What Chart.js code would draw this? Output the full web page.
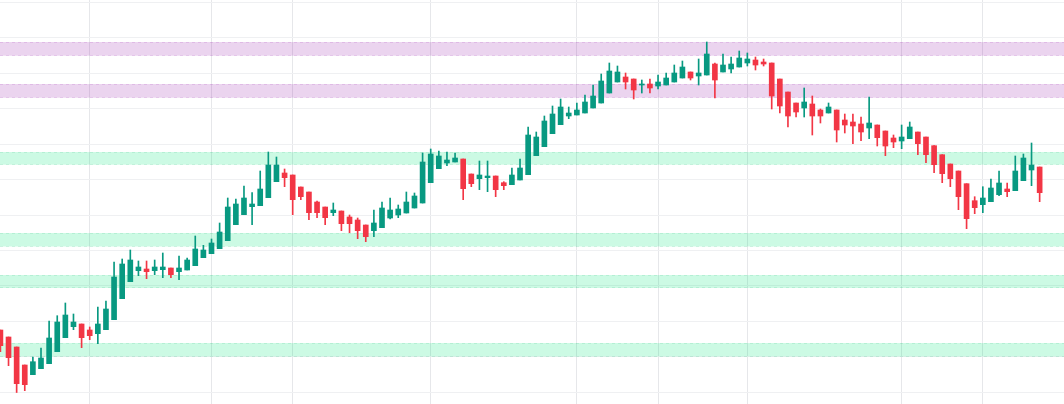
<!DOCTYPE html>
<html>
<head>
    <title>Candles with zones</title>
    <script src="https://cdn.jsdelivr.net/npm/chart.js@4"></script>
    <style>
        body { margin: 0; background: #fff; }
        #wrap { width: 1064px; height: 404px; position: relative; }
    </style>
</head>
<body>
    <div id="wrap"><canvas id="candleChart"></canvas></div>
    <script>
        // OHLC, one entry per bar (price units)
        const opens = [74, 67, 57, 39, 29.3, 35.3, 40.3, 52.3, 66.3, 77.3, 80, 74, 70.3, 74.3, 84.3, 105.3, 122.3, 133.3, 135, 133.3,
            134.3, 136, 132.3, 134, 138.3, 146.3, 150.3, 155.3, 163.3, 179.3, 189.3, 197.3, 198.3, 206.3, 222.3, 231, 229, 217, 212, 202,
            197, 191.3, 193, 187, 184, 179, 173.3, 176.3, 186, 189, 191, 196, 201, 221.3, 235.3, 241, 242, 245, 230, 225.3,
            226.3, 228, 221.3, 219.3, 224, 229.3, 248.3, 257.3, 270.3, 279.3, 288, 289, 291, 296, 301, 311, 322, 327, 325, 319,
            320, 318, 319, 322, 326, 332, 328, 329, 340, 332, 335, 337, 341, 344, 342, 341, 325, 312, 301, 296,
            300, 294, 291, 294, 284, 282, 280, 276, 279, 273, 266, 263, 265.3, 272, 267, 258.3, 249.3, 240, 233, 220.3,
            203.3, 199.3, 202.3, 209.3, 215, 213.3, 223.3, 234, 237];
        const highs = [74, 67, 57, 39, 47, 56, 83, 88.3, 101, 90, 80, 77, 97, 103, 142, 145, 154, 143, 143, 144,
            151, 136, 148, 146, 168, 158.7, 165, 181, 206, 205, 218, 211.3, 233, 252, 247, 235, 229, 217, 212, 203,
            197, 201, 193, 189, 186, 179, 194, 202, 206, 199, 212, 211, 251, 255, 253, 252, 251, 245, 230, 243,
            243, 228, 222.3, 236, 245, 277, 272, 288, 298, 305, 297, 301, 309, 319, 330, 341, 338, 331, 325, 324,
            325, 329, 331, 339, 343, 332, 345, 362, 341, 350, 347, 353, 351, 347, 345, 341, 325, 312, 301, 316,
            308, 295, 301, 294, 290, 290, 287, 307, 279, 273, 269, 279, 282, 272, 267, 258.3, 249.3, 240, 233, 220.3,
            207.3, 217.3, 225, 233, 221, 248, 250, 261, 237];
        const lows = [52.3, 38.3, 11.5, 13.3, 29.3, 35.3, 40.3, 52.3, 66.3, 74.3, 56.3, 64.3, 60.3, 74.3, 84.3, 105.3, 122.3, 128.3, 125.3, 129.3,
            126.3, 126.3, 124.3, 134, 138.3, 146.3, 150.3, 155.3, 163.3, 179.3, 189.3, 179.3, 198.3, 206.3, 222.3, 217.3, 189.3, 204.3, 184.3, 186.3,
            179.3, 188.3, 173.3, 171.3, 165.3, 162.3, 167.3, 176.3, 185, 186.3, 191, 196, 201, 221.3, 235.3, 238.3, 242, 204.3, 217.3, 214.3,
            212.3, 207.3, 214.3, 219.3, 224, 229.3, 248.3, 257.3, 270.3, 279.3, 285.3, 289, 291, 296, 301, 311, 322, 315, 305, 311,
            311, 315, 319, 322, 326, 324, 319, 329, 306, 332, 331, 337, 338, 334, 338, 295, 291, 277, 287, 287,
            269, 281, 291, 262, 271, 260.3, 263.3, 265.3, 258, 248.3, 256.3, 255.3, 265.3, 249.3, 241.3, 231.3, 221.3, 217.3, 194.3, 175.3,
            190.3, 191.3, 202.3, 208.3, 207.3, 213.3, 223.3, 218.3, 202.3];
        const closes = [58.3, 46.3, 20.3, 19.3, 42.3, 46, 66, 82, 89, 82, 66.3, 68.3, 80, 95, 127, 140, 144, 137, 132.3, 137,
            137, 129.3, 136, 144, 155, 154, 161, 172, 197, 200, 206, 200, 215, 239, 239, 226.3, 204.3, 207.3, 191.3, 191.3,
            186.3, 194, 180.3, 180.3, 173.3, 167.3, 181, 196, 194, 195, 202, 208, 242, 250, 248, 244, 246, 215.3, 220.3, 229,
            228, 214.3, 218.3, 229, 236, 269, 267, 283, 290, 297, 291, 294, 302, 308, 323, 333, 332, 322, 314, 320,
            316, 322, 326, 331, 337, 326, 331, 350, 324, 339, 340, 346, 345, 339, 340, 308, 298, 288, 292, 302,
            288, 288, 297, 274, 279, 278, 272, 281, 266.3, 258, 262, 267, 277, 260.3, 249.3, 239.3, 230.3, 225.3, 207.3, 185.3,
            196.3, 206, 216, 221, 212.3, 233, 246, 239, 211.3];

        // horizontal zones [low, high]
        const purpleZones = [[348.3, 362], [306.3, 320]];
        const greenZones = [[239.3, 252], [157.5, 171], [116, 129], [47.5, 61]];
        // bars that carry a vertical grid line
        const gridBars = [11, 26, 36, 53, 71, 81, 92, 111, 121];

        const upColor = '#089981';
        const downColor = '#f23645';
        const barColors = opens.map((o, i) => closes[i] >= o ? upColor : downColor);

        const zonesPlugin = {
            id: 'zones',
            beforeDatasetsDraw(chart) {
                const { ctx, chartArea, scales } = chart;
                const drawZones = (zones, fill, edge) => {
                    zones.forEach(z => {
                        const top = scales.y.getPixelForValue(z[1]);
                        const bottom = scales.y.getPixelForValue(z[0]);
                        ctx.save();
                        ctx.fillStyle = fill;
                        ctx.fillRect(chartArea.left, top, chartArea.right - chartArea.left, bottom - top);
                        ctx.strokeStyle = edge;
                        ctx.lineWidth = 1;
                        ctx.setLineDash([3, 3]);
                        ctx.beginPath();
                        ctx.moveTo(chartArea.left, Math.round(top) + 0.5);
                        ctx.lineTo(chartArea.right, Math.round(top) + 0.5);
                        ctx.moveTo(chartArea.left, Math.round(bottom) - 0.5);
                        ctx.lineTo(chartArea.right, Math.round(bottom) - 0.5);
                        ctx.stroke();
                        ctx.restore();
                    });
                };
                drawZones(purpleZones, 'rgba(156, 39, 176, 0.2)', 'rgba(156, 39, 176, 0.15)');
                drawZones(greenZones, 'rgba(0, 230, 118, 0.2)', 'rgba(0, 160, 90, 0.12)');
            }
        };

        const ctx = document.getElementById('candleChart').getContext('2d');
        const chart = new Chart(ctx, {
            type: 'bar',
            data: {
                datasets: [{
                    label: 'wick',
                    data: lows.map((l, i) => ({ x: i, y: [l, highs[i]] })),
                    backgroundColor: barColors,
                    barThickness: 1,
                    minBarLength: 1,
                    grouped: false,
                    order: 2
                }, {
                    label: 'body',
                    data: opens.map((o, i) => ({ x: i, y: [o, closes[i]] })),
                    backgroundColor: barColors,
                    barThickness: 5,
                    minBarLength: 1,
                    grouped: false,
                    order: 1
                }]
            },
            options: {
                responsive: true,
                maintainAspectRatio: false,
                animation: false,
                layout: { padding: 0 },
                plugins: {
                    legend: { display: false },
                    tooltip: { enabled: false }
                },
                scales: {
                    x: {
                        type: 'linear',
                        min: -0.05,
                        max: 131,
                        offset: false,
                        afterBuildTicks: scale => {
                            scale.ticks = gridBars.map(v => ({ value: v }));
                        },
                        ticks: { display: false },
                        grid: { color: '#e6e7ea', drawTicks: false, offset: false },
                        border: { display: false }
                    },
                    y: {
                        min: 0,
                        max: 404,
                        afterBuildTicks: scale => {
                            const t = [];
                            for (let k = 0; k < 12; k++) t.push({ value: 12 + 35.4 * k });
                            scale.ticks = t;
                        },
                        ticks: { display: false },
                        grid: { color: '#eff0f2', drawTicks: false },
                        border: { display: false }
                    }
                }
            },
            plugins: [zonesPlugin]
        });
    </script>
</body>
</html>
